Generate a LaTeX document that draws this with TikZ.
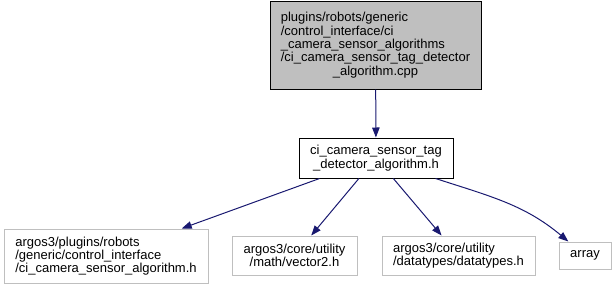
\documentclass[tikz,border=0pt]{standalone}
\usepackage{fontspec}
\setmainfont{Liberation Sans}
\usepackage{xcolor}
\usetikzlibrary{arrows.meta}

\definecolor{edgeblue}{RGB}{25,25,112}
\definecolor{boxgray}{RGB}{191,191,191}

\begin{document}
\begin{tikzpicture}[
  x=0.75pt,y=-0.75pt,
  file/.style={draw=boxgray,line width=0.75pt,inner sep=0pt,
               font=\fontsize{9.75}{10}\selectfont},
  cur/.style={file,draw=black},
  incl/.style={-{Triangle[length=7.5pt,width=5.6pt]},draw=edgeblue,line width=0.75pt}
]
\useasboundingbox (0,0) rectangle (616,289);
% the source file and the header it includes
\node[cur,fill=boxgray,minimum width=158.25pt,minimum height=66pt,align=left]
  (src) at (375.5,45)
  {plugins/robots/generic\\/control\_interface/ci\\\_camera\_sensor\_algorithms\\/ci\_camera\_sensor\_tag\_detector\\\hspace*{\fill}\_algorithm.cpp\hspace*{\fill}};
\node[cur,minimum width=115.5pt,minimum height=30pt,align=center]
  (hdr) at (376,158) {ci\_camera\_sensor\_tag\\\_detector\_algorithm.h};
% headers pulled in by it
\node[file,minimum width=153pt,minimum height=40.5pt,align=left]
  (algo) at (106,256) {argos3/plugins/robots\\/generic/control\_interface\\/ci\_camera\_sensor\_algorithm.h};
\node[file,minimum width=93.75pt,minimum height=29.25pt,align=center]
  (vec) at (294.5,255.5) {argos3/core/utility\\/math/vector2.h};
\node[file,minimum width=114.75pt,minimum height=29.25pt,align=left]
  (dtypes) at (458.5,255.5) {argos3/core/utility\\/datatypes/datatypes.h};
\node[file,minimum width=39pt,minimum height=20.25pt]
  (array) at (585,255.5) {array};
\draw[incl] (src) -- (hdr);
\draw[incl] (hdr) -- (algo);
\draw[incl] (hdr) -- (vec);
\draw[incl] (hdr) -- (dtypes);
\draw[incl] (hdr.-19) to[out=-18,in=140] (array);
\end{tikzpicture}
\end{document}
